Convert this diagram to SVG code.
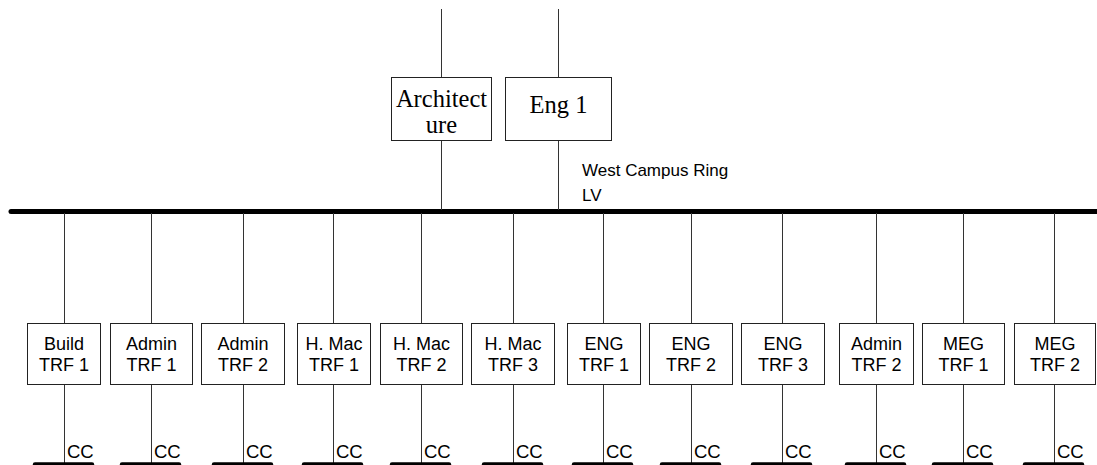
<svg xmlns="http://www.w3.org/2000/svg" width="1097" height="465" viewBox="0 0 1097 465">
<style>
.box{fill:#fff;stroke:#222;stroke-width:1}
.ln{stroke:#333;stroke-width:1;fill:none}
.bus{stroke:#000;stroke-width:5;stroke-linecap:round;fill:none}
.bar{stroke:#000;stroke-width:4.5;stroke-linecap:round;fill:none}
.t{font-family:"Liberation Sans",Arial,sans-serif;font-size:18px;fill:#000;text-anchor:middle}
.s{font-family:"Liberation Serif","Times New Roman",serif;font-size:24.5px;fill:#000;text-anchor:middle}
.l{font-family:"Liberation Sans",Arial,sans-serif;font-size:17px;fill:#000}
.cc{font-family:"Liberation Sans",Arial,sans-serif;font-size:18.5px;fill:#000}
</style>
<rect width="1097" height="465" fill="#fff"/>
<g id="connectors">
<line class="bus" x1="11" y1="211.5" x2="1100" y2="211.5"/>
<line class="ln" x1="441.5" y1="9" x2="441.5" y2="78"/>
<line class="ln" x1="441.5" y1="141" x2="441.5" y2="210"/>
<line class="ln" x1="558.5" y1="9" x2="558.5" y2="78"/>
<line class="ln" x1="558.5" y1="141" x2="558.5" y2="210"/>
<g id="feeders">
<path class="ln" d="M64.5 213V323M64.5 385V463"/>
<path class="ln" d="M151.5 213V323M151.5 385V463"/>
<path class="ln" d="M243.5 213V323M243.5 385V463"/>
<path class="ln" d="M333.5 213V323M333.5 385V463"/>
<path class="ln" d="M421.5 213V323M421.5 385V463"/>
<path class="ln" d="M513.5 213V323M513.5 385V463"/>
<path class="ln" d="M603.5 213V323M603.5 385V463"/>
<path class="ln" d="M691.5 213V323M691.5 385V463"/>
<path class="ln" d="M782.5 213V323M782.5 385V463"/>
<path class="ln" d="M876.5 213V323M876.5 385V463"/>
<path class="ln" d="M963.5 213V323M963.5 385V463"/>
<path class="ln" d="M1054.5 213V323M1054.5 385V463"/>
</g>
</g>
<g id="label-ring">
<text class="l" x="582" y="176">West Campus Ring</text>
<text class="l" x="582" y="201">LV</text>
</g>
<g id="architecture">
<rect class="box" x="391.5" y="77.5" width="100" height="63"/>
<text class="s" x="441.5" y="107">Architect</text>
<text class="s" x="441.5" y="133">ure</text>
</g>
<g id="eng1">
<rect class="box" x="505.5" y="77.5" width="106" height="63"/>
<text class="s" x="558.5" y="113">Eng 1</text>
</g>
<g id="build-trf1">
<rect class="box" x="27.5" y="323.5" width="73" height="61"/>
<text class="t" x="64" y="350">Build</text><text class="t" x="64" y="371">TRF 1</text>
</g>
<g id="admin-trf1">
<rect class="box" x="110.5" y="323.5" width="82" height="61"/>
<text class="t" x="151.5" y="350">Admin</text><text class="t" x="151.5" y="371">TRF 1</text>
</g>
<g id="admin-trf2">
<rect class="box" x="201.5" y="323.5" width="83" height="61"/>
<text class="t" x="243" y="350">Admin</text><text class="t" x="243" y="371">TRF 2</text>
</g>
<g id="hmac-trf1">
<rect class="box" x="297.5" y="323.5" width="73" height="61"/>
<text class="t" x="334" y="350">H. Mac</text><text class="t" x="334" y="371">TRF 1</text>
</g>
<g id="hmac-trf2">
<rect class="box" x="380.5" y="323.5" width="82" height="61"/>
<text class="t" x="421.5" y="350">H. Mac</text><text class="t" x="421.5" y="371">TRF 2</text>
</g>
<g id="hmac-trf3">
<rect class="box" x="471.5" y="323.5" width="83" height="61"/>
<text class="t" x="513" y="350">H. Mac</text><text class="t" x="513" y="371">TRF 3</text>
</g>
<g id="eng-trf1">
<rect class="box" x="567.5" y="323.5" width="73" height="61"/>
<text class="t" x="604" y="350">ENG</text><text class="t" x="604" y="371">TRF 1</text>
</g>
<g id="eng-trf2">
<rect class="box" x="649.5" y="323.5" width="83" height="61"/>
<text class="t" x="691" y="350">ENG</text><text class="t" x="691" y="371">TRF 2</text>
</g>
<g id="eng-trf3">
<rect class="box" x="741.5" y="323.5" width="83" height="61"/>
<text class="t" x="783" y="350">ENG</text><text class="t" x="783" y="371">TRF 3</text>
</g>
<g id="admin2-trf2">
<rect class="box" x="839.5" y="323.5" width="74" height="61"/>
<text class="t" x="876.5" y="350">Admin</text><text class="t" x="876.5" y="371">TRF 2</text>
</g>
<g id="meg-trf1">
<rect class="box" x="922.5" y="323.5" width="82" height="61"/>
<text class="t" x="963.5" y="350">MEG</text><text class="t" x="963.5" y="371">TRF 1</text>
</g>
<g id="meg-trf2">
<rect class="box" x="1014.5" y="323.5" width="81" height="61"/>
<text class="t" x="1055" y="350">MEG</text><text class="t" x="1055" y="371">TRF 2</text>
</g>
<g id="cc-buses">
<line class="bar" x1="35" y1="464.5" x2="92" y2="464.5"/><text class="cc" x="67" y="458">CC</text>
<line class="bar" x1="122" y1="464.5" x2="179" y2="464.5"/><text class="cc" x="154" y="458">CC</text>
<line class="bar" x1="214" y1="464.5" x2="271" y2="464.5"/><text class="cc" x="246" y="458">CC</text>
<line class="bar" x1="304" y1="464.5" x2="361" y2="464.5"/><text class="cc" x="336" y="458">CC</text>
<line class="bar" x1="392" y1="464.5" x2="449" y2="464.5"/><text class="cc" x="424" y="458">CC</text>
<line class="bar" x1="484" y1="464.5" x2="541" y2="464.5"/><text class="cc" x="516" y="458">CC</text>
<line class="bar" x1="574" y1="464.5" x2="631" y2="464.5"/><text class="cc" x="606" y="458">CC</text>
<line class="bar" x1="662" y1="464.5" x2="719" y2="464.5"/><text class="cc" x="694" y="458">CC</text>
<line class="bar" x1="753" y1="464.5" x2="810" y2="464.5"/><text class="cc" x="785" y="458">CC</text>
<line class="bar" x1="847" y1="464.5" x2="904" y2="464.5"/><text class="cc" x="879" y="458">CC</text>
<line class="bar" x1="934" y1="464.5" x2="991" y2="464.5"/><text class="cc" x="966" y="458">CC</text>
<line class="bar" x1="1025" y1="464.5" x2="1082" y2="464.5"/><text class="cc" x="1057" y="458">CC</text>
</g>
</svg>
